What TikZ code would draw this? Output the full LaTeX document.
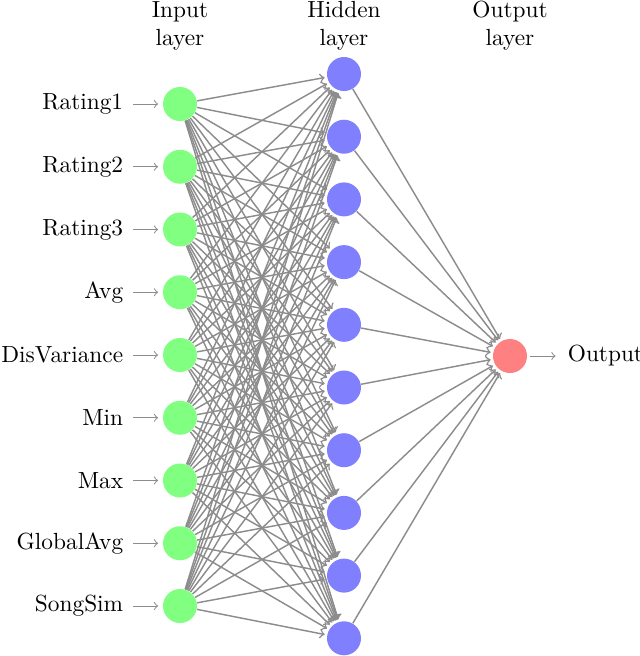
\documentclass[tikz,border=0pt]{standalone}
\begin{document}
\begin{tikzpicture}[x=0.45pt,y=-0.45pt,
  neuron/.style={circle,minimum size=15.3pt,inner sep=0pt},
  inneuron/.style={neuron,fill=green!50},
  hidneuron/.style={neuron,fill=blue!50},
  outneuron/.style={neuron,fill=red!50},
  edge/.style={->,draw=black!45,line width=0.65pt,shorten >=1pt},
  pinedge/.style={->,draw=black!45,line width=0.45pt,shorten >=2pt,shorten <=1pt},
  lab/.style={font=\fontsize{10.5}{12.6}\selectfont},
  ]
\useasboundingbox (0,0) rectangle (640,656);
\foreach \name [count=\i] in {Rating1,Rating2,Rating3,Avg,DisVariance,Min,Max,GlobalAvg,SongSim} {
  \node[inneuron] (I-\i) at (180,{104+(\i-1)*62.75}) {};
  \node[lab,anchor=east] (L-\i) at (131,{104+(\i-1)*62.75}) {\name};
  \draw[pinedge] (L-\i) -- (I-\i);
}
\foreach \i in {1,...,10} {
  \node[hidneuron] (H-\i) at (344,{74+(\i-1)*62.7}) {};
}
\node[outneuron] (O) at (510,356) {};
\node[lab,anchor=west] (OL) at (560,356) {Output};
\draw[pinedge] (O) -- (OL);
\foreach \s in {1,...,9} {
  \foreach \d in {1,...,10} {
    \draw[edge] (I-\s) -- (H-\d);
  }
}
\foreach \d in {1,...,10} {
  \draw[edge] (H-\d) -- (O);
}
\node[lab,align=center] (T1) at (180,26) {Input\\layer};
\node[lab,align=center] (T2) at (344,26) {Hidden\\layer};
\node[lab,align=center] (T3) at (510,26) {Output\\layer};
\end{tikzpicture}
\end{document}
